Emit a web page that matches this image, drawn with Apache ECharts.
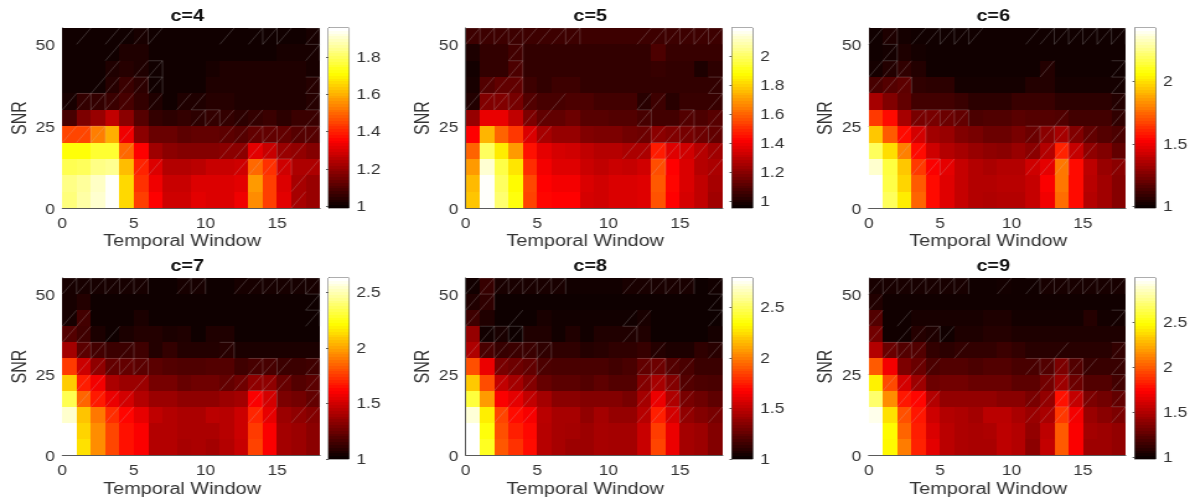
<!DOCTYPE html>
<html><head><meta charset="utf-8">
<style>html,body{margin:0;padding:0;background:#fff;overflow:hidden}
#c{width:964px;height:499px;transform:scaleX(1.2396);transform-origin:0 0}</style>
<script src="https://cdn.jsdelivr.net/npm/echarts@6/dist/echarts.min.js"></script>
</head><body><div id="c"></div>
<script>
// rows run from SNR 50-55 (top) down to SNR 0-5 (bottom); 18 temporal-window columns
const c4 = [
[1.0,1.0,1.0,1.0,1.0,1.01,1.0,1.0,1.0,1.0,1.0,1.0,1.0,1.0,1.0,1.0,1.0,1.01],
[1.0,1.0,1.0,1.0,1.02,1.02,1.0,1.0,1.0,1.0,1.0,1.0,1.0,1.0,1.0,1.01,1.01,1.01],
[1.0,1.0,1.0,1.02,1.03,1.02,1.0,1.0,1.0,1.0,1.01,1.02,1.02,1.02,1.02,1.02,1.02,1.01],
[1.0,1.0,1.0,1.03,1.06,1.04,1.0,1.0,1.0,1.0,1.02,1.02,1.02,1.02,1.02,1.02,1.02,1.03],
[1.01,1.05,1.05,1.06,1.08,1.05,1.02,1.0,1.02,1.02,1.03,1.03,1.02,1.02,1.02,1.02,1.02,1.03],
[1.08,1.16,1.2,1.26,1.18,1.1,1.05,1.04,1.05,1.04,1.05,1.05,1.04,1.05,1.06,1.04,1.06,1.06],
[1.45,1.45,1.53,1.6,1.33,1.18,1.13,1.13,1.11,1.12,1.12,1.11,1.1,1.12,1.12,1.12,1.1,1.1],
[1.72,1.72,1.76,1.76,1.5,1.35,1.21,1.18,1.17,1.17,1.17,1.18,1.18,1.31,1.27,1.2,1.19,1.17],
[1.79,1.8,1.84,1.85,1.62,1.4,1.3,1.24,1.24,1.25,1.27,1.27,1.28,1.5,1.42,1.28,1.23,1.23],
[1.84,1.86,1.9,1.95,1.66,1.42,1.33,1.27,1.27,1.3,1.3,1.3,1.31,1.57,1.44,1.3,1.22,1.2],
[1.83,1.87,1.91,1.95,1.66,1.44,1.35,1.28,1.28,1.31,1.3,1.3,1.33,1.55,1.44,1.31,1.22,1.2]];
const c5 = [
[1.05,1.05,1.05,1.05,1.05,1.05,1.05,1.05,1.05,1.05,1.05,1.05,1.05,1.05,1.05,1.05,1.05,1.05],
[0.99,1.03,1.03,1.06,1.03,1.03,1.03,1.03,1.03,1.03,1.03,1.03,1.03,1.08,1.04,1.04,1.04,1.04],
[0.97,1.03,1.03,1.08,1.03,1.03,1.03,1.03,1.03,1.03,1.03,1.03,1.03,1.04,1.03,1.03,0.99,1.02],
[0.98,1.09,1.12,1.12,1.05,1.03,1.05,1.05,1.03,1.03,1.03,1.03,1.03,1.03,1.03,1.03,1.03,1.03],
[1.0,1.18,1.18,1.16,1.09,1.07,1.07,1.08,1.08,1.06,1.06,1.06,1.01,1.05,1.01,1.04,1.04,1.04],
[1.22,1.38,1.38,1.3,1.17,1.12,1.12,1.14,1.1,1.1,1.09,1.09,1.07,1.06,1.06,1.09,1.08,1.1],
[1.42,1.75,1.6,1.52,1.35,1.25,1.22,1.22,1.18,1.17,1.17,1.15,1.14,1.2,1.18,1.16,1.14,1.12],
[1.6,2.0,1.85,1.7,1.45,1.37,1.34,1.33,1.3,1.28,1.28,1.26,1.26,1.47,1.36,1.33,1.28,1.24],
[1.7,2.14,1.97,1.84,1.5,1.4,1.36,1.36,1.32,1.3,1.32,1.31,1.33,1.56,1.42,1.35,1.28,1.26],
[1.76,2.19,2.0,1.88,1.55,1.42,1.4,1.4,1.35,1.33,1.35,1.35,1.36,1.58,1.43,1.35,1.3,1.25],
[1.78,2.19,2.02,1.9,1.54,1.43,1.42,1.42,1.34,1.33,1.35,1.35,1.36,1.57,1.42,1.34,1.3,1.24]];
const c6 = [
[1.0,1.03,1.01,1.0,1.0,1.0,1.0,1.0,1.0,1.0,1.0,1.0,1.0,1.0,1.0,1.0,1.0,1.0],
[1.0,1.01,1.03,1.01,1.0,1.0,1.0,1.0,1.0,1.0,1.0,1.0,1.0,1.0,1.0,1.0,1.0,1.0],
[1.01,1.04,1.07,1.04,1.0,1.0,1.0,1.0,1.0,1.0,1.0,1.0,1.04,1.0,1.0,1.0,1.0,1.0],
[1.12,1.15,1.17,1.07,1.06,1.06,1.01,1.01,1.01,1.01,1.01,1.04,1.04,1.01,1.01,1.01,1.01,1.01],
[1.33,1.25,1.18,1.11,1.11,1.11,1.09,1.06,1.06,1.06,1.09,1.09,1.09,1.06,1.06,1.06,1.06,1.04],
[1.65,1.55,1.33,1.23,1.23,1.2,1.18,1.13,1.14,1.14,1.16,1.15,1.15,1.14,1.11,1.11,1.11,1.07],
[1.95,1.72,1.55,1.43,1.32,1.3,1.25,1.23,1.2,1.2,1.23,1.2,1.27,1.33,1.25,1.18,1.15,1.13],
[2.2,2.0,1.8,1.55,1.42,1.36,1.33,1.3,1.28,1.27,1.3,1.27,1.36,1.6,1.4,1.28,1.25,1.18],
[2.36,2.16,1.95,1.65,1.52,1.47,1.4,1.36,1.34,1.36,1.36,1.42,1.47,1.78,1.55,1.38,1.3,1.27],
[2.43,2.17,1.98,1.72,1.55,1.46,1.4,1.36,1.36,1.37,1.37,1.4,1.52,1.78,1.55,1.37,1.32,1.26],
[2.43,2.2,2.03,1.74,1.55,1.46,1.4,1.36,1.35,1.36,1.36,1.4,1.5,1.76,1.55,1.36,1.32,1.26]];
const c7 = [
[1.03,1.03,1.03,1.03,1.03,1.03,1.01,1.01,1.03,1.03,1.01,1.01,1.03,1.03,1.03,1.03,1.03,1.03],
[1.03,1.06,1.01,1.01,1.01,1.01,1.01,1.01,1.01,1.01,1.01,1.01,1.01,1.01,1.01,1.01,1.01,1.01],
[1.03,1.14,1.01,1.01,1.01,1.04,1.01,1.01,1.01,1.01,1.01,1.01,1.01,1.01,1.01,1.01,1.01,1.01],
[1.18,1.13,1.04,1.01,1.04,1.06,1.06,1.04,1.05,1.01,1.05,1.05,1.01,1.01,1.01,1.01,1.01,1.01],
[1.38,1.2,1.14,1.12,1.12,1.13,1.06,1.1,1.06,1.06,1.06,1.07,1.04,1.04,1.04,1.04,1.04,1.04],
[1.75,1.48,1.33,1.22,1.22,1.2,1.2,1.18,1.17,1.17,1.18,1.18,1.13,1.15,1.15,1.12,1.12,1.13],
[2.1,1.68,1.58,1.4,1.36,1.36,1.27,1.27,1.23,1.25,1.25,1.22,1.25,1.33,1.33,1.23,1.18,1.2],
[2.35,1.85,1.67,1.56,1.5,1.42,1.36,1.36,1.33,1.33,1.33,1.36,1.38,1.6,1.5,1.28,1.26,1.22],
[2.55,2.08,1.9,1.72,1.62,1.55,1.45,1.42,1.4,1.4,1.44,1.43,1.48,1.7,1.55,1.36,1.33,1.3],
[2.63,2.12,1.95,1.78,1.65,1.6,1.42,1.42,1.4,1.4,1.4,1.43,1.48,1.75,1.6,1.38,1.36,1.32],
[2.63,2.15,1.95,1.78,1.65,1.6,1.42,1.42,1.39,1.4,1.38,1.42,1.47,1.77,1.6,1.38,1.36,1.32]];
const c8 = [
[1.02,1.12,1.04,1.04,1.04,1.04,1.04,1.02,1.02,1.02,1.02,1.04,1.04,1.04,1.04,1.04,1.01,1.02],
[1.06,1.1,1.01,1.01,1.01,1.01,1.01,1.01,1.01,1.01,1.01,1.01,1.01,1.01,1.01,1.01,1.01,1.01],
[1.14,1.06,1.01,1.01,1.01,1.04,1.02,1.02,1.02,1.02,1.02,1.02,1.04,1.01,1.01,1.01,1.01,1.01],
[1.38,1.02,1.04,1.01,1.06,1.06,1.02,1.06,1.02,1.06,1.06,1.06,1.06,1.01,1.01,1.01,1.01,1.03],
[1.45,1.17,1.12,1.13,1.13,1.1,1.1,1.1,1.07,1.08,1.1,1.1,1.12,1.07,1.05,1.05,1.1,1.08],
[1.88,1.62,1.3,1.27,1.24,1.18,1.17,1.17,1.17,1.17,1.15,1.17,1.24,1.27,1.2,1.17,1.13,1.13],
[2.2,1.87,1.5,1.42,1.33,1.25,1.22,1.22,1.2,1.23,1.2,1.2,1.33,1.43,1.33,1.2,1.18,1.17],
[2.45,2.08,1.66,1.6,1.5,1.42,1.35,1.35,1.33,1.33,1.33,1.3,1.42,1.62,1.45,1.3,1.27,1.23],
[2.72,2.3,1.85,1.7,1.65,1.48,1.43,1.43,1.37,1.42,1.38,1.38,1.47,1.75,1.55,1.37,1.33,1.3],
[2.79,2.36,1.88,1.75,1.69,1.47,1.43,1.42,1.4,1.43,1.42,1.42,1.52,1.83,1.62,1.42,1.4,1.33],
[2.79,2.4,1.9,1.8,1.7,1.47,1.43,1.4,1.4,1.43,1.42,1.42,1.52,1.85,1.62,1.42,1.4,1.33]];
const c9 = [
[1.02,1.02,1.02,1.02,1.02,1.02,1.02,1.0,1.0,1.01,1.0,1.0,1.02,1.02,1.02,1.02,1.02,1.02],
[1.05,1.0,1.0,1.0,1.0,1.0,1.0,1.0,1.0,1.0,1.0,1.0,1.0,1.0,1.0,1.0,1.0,1.0],
[1.2,1.0,1.0,1.02,1.02,1.02,1.02,1.02,1.04,1.04,1.01,1.01,1.01,1.01,1.01,1.06,1.01,1.01],
[1.3,1.0,1.0,1.06,1.04,1.0,1.04,1.04,1.06,1.06,1.04,1.04,1.04,1.04,1.04,1.04,1.04,1.04],
[1.5,1.27,1.2,1.2,1.1,1.08,1.1,1.1,1.1,1.13,1.1,1.07,1.07,1.07,1.07,1.07,1.07,1.1],
[2.0,1.7,1.33,1.27,1.18,1.2,1.2,1.18,1.2,1.2,1.17,1.17,1.2,1.33,1.2,1.12,1.12,1.12],
[2.45,1.95,1.6,1.43,1.28,1.3,1.3,1.27,1.27,1.27,1.23,1.23,1.3,1.43,1.28,1.2,1.2,1.15],
[2.7,2.15,1.8,1.75,1.5,1.4,1.4,1.4,1.4,1.37,1.37,1.32,1.4,1.78,1.55,1.33,1.3,1.25],
[2.95,2.4,1.97,1.8,1.58,1.5,1.48,1.45,1.52,1.52,1.47,1.42,1.47,1.9,1.7,1.42,1.37,1.33],
[2.99,2.48,2.03,1.82,1.62,1.52,1.48,1.47,1.48,1.53,1.5,1.4,1.53,2.0,1.72,1.45,1.43,1.4],
[2.99,2.47,2.1,1.83,1.65,1.52,1.48,1.47,1.47,1.53,1.5,1.38,1.55,2.0,1.72,1.43,1.43,1.4]];
const titles = ['c=4','c=5','c=6','c=7','c=8','c=9'];
const ranges = [[0.99,1.955],[0.955,2.195],[0.987,2.43],[1,2.63],[1,2.79],[0.98,2.99]];
const cbTicks = [[1,1.2,1.4,1.6,1.8],[1,1.2,1.4,1.6,1.8,2],[1,1.5,2],[1,1.5,2,2.5],[1,1.5,2,2.5],[1,1.5,2,2.5]];
const xTicks = [0,5,10,15];
const yTicks = [0,25,50];
// faint mesh seams: '/' is a diagonal, 'Z' a diagonal plus top and right edges
const m4 = ["././/Z/..../.ZZ/.Z",".../.............Z","..././Z...........","..///ZZ..........Z","/ZZ//././/.......Z",".........ZZ///...Z","/ZZ./......//ZZ/ZZ","..../......///Z//",".....//.....//ZZ./","................/.","................/."];
const m5 = ["ZZZZ//ZZ..../ZZZZZ","...Z..............","...Z..............",".//Z.............Z","/ZZ//./.....//...Z","....//......Z..Z./","....//......Z/ZZZZ","...........//ZZ///",".............Z.../","..................",".................."];
const m6 = ["/Z./ZZZ/.../ZZZZZZ",".Z................","/Z/........./....Z","//Z..............Z",".................Z","...ZZZZ....../...Z","../Z.......ZZZ//./","..//.......//Z//..",".../Z/.....//Z...Z","..................",".................."];
const m7 = ["ZZZZZZ..ZZ../ZZZZZ",".................Z","//...............Z","//./..............",".ZZ.Z......Z......",".//ZZZ.......ZZ/.Z",".//../.....//Z//.Z",".////........ZZ..Z","...//........//.//","..................",".................."];
const m8 = ["/ZZZZZZ..../ZZZZ.Z","/Z...............Z","/../.......//....Z",".ZZZ.......Z......","/Z/ZZZ......./...Z","..//Z/......ZZ//..","..///.......ZZZ/..","...//.......//Z/..","..///.......//Z/./","..................",".................."];
const m9 = ["ZZZZZZZ../.ZZZZZZZ","/.................","/./..............Z","/.//Z/............",".ZZ/../....../...Z","...//......ZZZZ/.Z",".///........ZZZ..Z","..///......//ZZ/.Z","..//.......//Z/..Z","..................",".................."];
const tables = [c4,c5,c6,c7,c8,c9];
const masks = [m4,m5,m6,m7,m8,m9];

const S = 1.2396;               // the page is stretched horizontally by this factor
const plotX = [[62.3,320],[465.7,722.7],[868.7,1125.7]];
const barX = [[328.5,349],[732,752.7],[1135,1155.7]];
const rowY = [[28,208],[278,459]];

function hot(t){
  t = Math.max(0,Math.min(1,t));
  const r = Math.min(1,0.0417+t/0.375*0.9583), g = Math.max(0,Math.min(1,(t-0.375)/0.375)), b = Math.max(0,(t-0.75)/0.25);
  return 'rgb('+Math.round(r*255)+','+Math.round(g*255)+','+Math.round(b*255)+')';
}
const axisColor = '#5a5a5a', textColor = '#333', font = '"Liberation Sans",Arial,sans-serif';
const shifted = top => ({formatter:'{a|{value}}',rich:{a:{padding:[top,0,0,0],fontFamily:font,fontSize:14,color:textColor}}});
const grid=[],xAxis=[],yAxis=[],series=[],title=[];
tables.forEach((tb,p)=>{
  const col=p%3,row=Math.floor(p/3),[x0,x1]=plotX[col],[b0,b1]=barX[col],[y0,y1]=rowY[row],[lo,hi]=ranges[p];
  title.push({text:titles[p],left:((x0+x1)/2-4)/S,top:y0-19,padding:0,textAlign:'center',
    textStyle:{fontFamily:font,fontSize:16,fontWeight:'bold',color:'#111'}});
  const gi=grid.length;
  grid.push({left:x0/S,width:(x1-x0)/S,top:y0,height:y1-y0});
  xAxis.push({type:'value',gridIndex:gi,min:0,max:18,name:'Temporal Window',nameLocation:'middle',nameGap:row?27:26,
    nameTextStyle:{fontFamily:font,fontSize:16,color:textColor,padding:[0,14.5,0,0]},
    axisLine:{show:true,lineStyle:{color:axisColor}},axisTick:{show:true,inside:true,length:2,customValues:xTicks,lineStyle:{color:axisColor}},
    splitLine:{show:false},axisLabel:{customValues:xTicks,margin:9,fontFamily:font,fontSize:14,color:textColor}});
  yAxis.push({type:'value',gridIndex:gi,min:0,max:55,name:'SNR',nameLocation:'middle',nameGap:26,
    nameTextStyle:{fontFamily:font,fontSize:16,color:textColor},
    axisLine:{show:true,lineStyle:{color:axisColor}},axisTick:{show:true,inside:true,length:2,customValues:yTicks,lineStyle:{color:axisColor}},
    splitLine:{show:false},axisLabel:{customValues:yTicks,margin:6,...shifted(4)}});
  const cells=[];
  tb.forEach((r,i)=>r.forEach((v,j)=>cells.push([j,(10-i)*5,v])));
  series.push({type:'custom',xAxisIndex:gi,yAxisIndex:gi,silent:true,clip:true,z:1,data:cells,
    renderItem:(ps,api)=>{
      const a=api.coord([api.value(0),api.value(1)]),b=api.coord([api.value(0)+1,api.value(1)+5]);
      const c=hot((api.value(2)-lo)/(hi-lo));
      const l=Math.round(a[0]),r=Math.round(b[0]),t=Math.round(b[1]),d=Math.round(a[1]);
      return {type:'rect',shape:{x:l,y:t,width:r-l,height:d-t},style:{fill:c,stroke:null}};
    }});
  const seams=[];
  masks[p].forEach((s,i)=>{for(let j=0;j<18;j++){const k=s[j];if(k==='/'||k==='Z')seams.push([j,(10-i)*5,k==='Z'?1:0]);}});
  series.push({type:'custom',xAxisIndex:gi,yAxisIndex:gi,silent:true,clip:true,z:2,data:seams,
    renderItem:(ps,api)=>{
      const a=api.coord([api.value(0),api.value(1)]),b=api.coord([api.value(0)+1,api.value(1)+5]);
      const st={stroke:'rgba(205,205,205,0.32)',lineWidth:0.7,fill:null};
      const kids=[{type:'line',shape:{x1:a[0],y1:a[1],x2:b[0],y2:b[1]},style:st}];
      if(api.value(2)===1){
        kids.push({type:'line',shape:{x1:a[0],y1:b[1],x2:b[0],y2:b[1]},style:st});
        kids.push({type:'line',shape:{x1:b[0],y1:b[1],x2:b[0],y2:a[1]},style:st});
      }
      return {type:'group',children:kids};
    }});
  const gb=grid.length;
  grid.push({left:b0/S,width:(b1-b0)/S,top:y0,height:y1-y0,show:true,borderColor:axisColor,borderWidth:1,backgroundColor:'transparent'});
  xAxis.push({type:'value',gridIndex:gb,min:0,max:1,show:false});
  yAxis.push({type:'value',gridIndex:gb,min:lo,max:hi,position:'right',
    axisLine:{show:true,lineStyle:{color:axisColor}},axisTick:{show:true,inside:true,length:2,customValues:cbTicks[p],lineStyle:{color:axisColor}},
    splitLine:{show:false},axisLabel:{customValues:cbTicks[p],margin:6,...shifted(2)}});
  const steps=[];
  for(let k=0;k<64;k++)steps.push([lo+(hi-lo)*k/64,lo+(hi-lo)*(k+1)/64,k/63]);
  series.push({type:'custom',xAxisIndex:gb,yAxisIndex:gb,silent:true,clip:true,z:1,data:steps,
    renderItem:(ps,api)=>{
      const a=api.coord([0,api.value(0)]),b=api.coord([1,api.value(1)]);
      const t=Math.round(b[1]),d=Math.round(a[1]);
      return {type:'rect',shape:{x:a[0],y:t,width:b[0]-a[0],height:d-t},style:{fill:hot(api.value(2)),stroke:null}};
    }});
});
const chart=echarts.init(document.getElementById('c'),null,{renderer:'canvas',width:964,height:499});
chart.setOption({animation:false,backgroundColor:'#fff',title,grid,xAxis,yAxis,series});
</script></body></html>
